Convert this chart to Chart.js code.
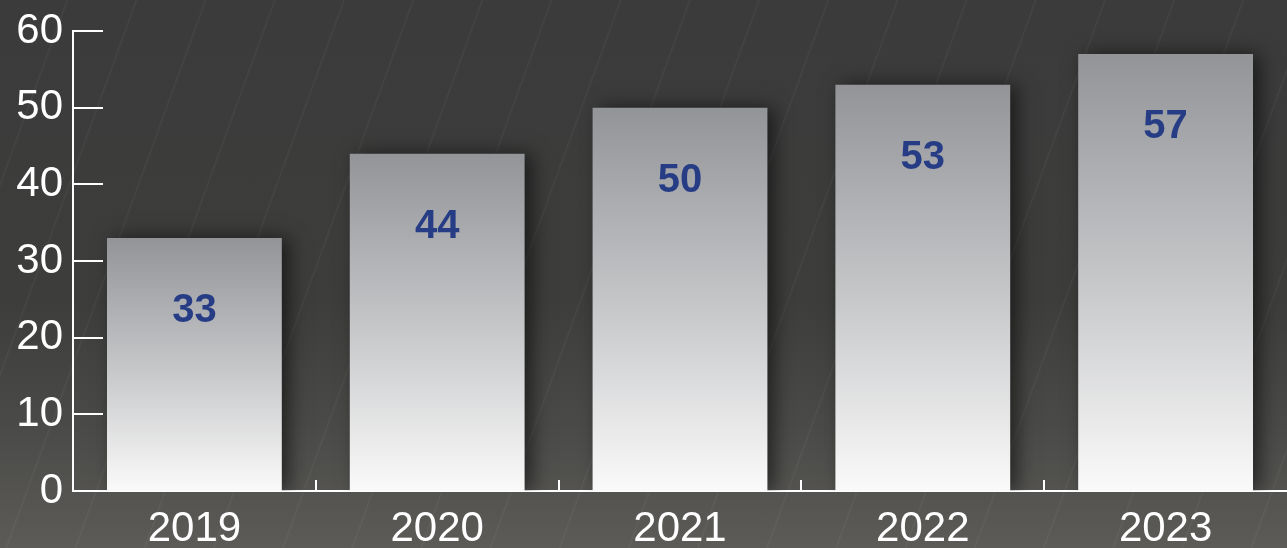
<!DOCTYPE html>
<html>
<head>
<meta charset="utf-8">
<script src="https://cdn.jsdelivr.net/npm/chart.js@4.4.1/dist/chart.umd.min.js"></script>
<style>
  html, body { margin: 0; padding: 0; width: 1287px; height: 548px; overflow: hidden; }
  body {
    background:
      repeating-linear-gradient(110deg, rgba(255,255,255,0) 0px, rgba(255,255,255,0) 62px, rgba(255,255,255,0.045) 63px, rgba(255,255,255,0) 65px),
      linear-gradient(180deg, #3b3b3b 0%, #3d3d3c 55%, #4a4a48 78%, #5c5b58 100%);
  }
  #wrap { position: absolute; left: 0; top: 0; width: 1287px; height: 548px; }
</style>
</head>
<body>
<div id="wrap"><canvas id="c" width="1287" height="548"></canvas></div>
<script>
const categories = ["2019", "2020", "2021", "2022", "2023"];
const values = [33, 44, 50, 53, 57];
const yTicks = [0, 10, 20, 30, 40, 50, 60];

const FONT = "'Liberation Sans', Arial, sans-serif";

// gradient per bar, from its own top (gray) to the baseline (white)
function barGradient(ctx) {
  const chart = ctx.chart;
  const y = chart.scales && chart.scales.y;
  if (!y || ctx.raw === undefined) return '#c4c5c7';
  const top = y.getPixelForValue(ctx.raw);
  const bottom = y.getPixelForValue(0);
  if (!isFinite(top) || !isFinite(bottom) || top === bottom) return '#c4c5c7';
  const g = chart.ctx.createLinearGradient(0, top, 0, bottom);
  g.addColorStop(0, '#939498');
  g.addColorStop(0.5, '#c4c5c7');
  g.addColorStop(1, '#fafafa');
  return g;
}

const shadowPlugin = {
  id: 'barShadow',
  beforeDatasetDraw(chart) {
    const c = chart.ctx;
    c.save();
    c.shadowColor = 'rgba(0,0,0,0.55)';
    c.shadowBlur = 18;
    c.shadowOffsetX = 7;
    c.shadowOffsetY = 0;
  },
  afterDatasetDraw(chart) {
    chart.ctx.restore();
  }
};

const innerTicksPlugin = {
  id: 'innerTicks',
  afterDatasetsDraw(chart) {
    const c = chart.ctx;
    const { left, bottom } = chart.chartArea;
    const ys = chart.scales.y, xs = chart.scales.x;
    c.save();
    c.strokeStyle = '#ffffff';
    c.lineWidth = 2;
    c.beginPath();
    yTicks.forEach(v => {
      const py = Math.round(ys.getPixelForValue(v));
      if (v !== 0) { c.moveTo(left, py); c.lineTo(left + 30, py); }
    });
    for (let i = 0; i < categories.length - 1; i++) {
      const px = Math.round((xs.getPixelForValue(i) + xs.getPixelForValue(i + 1)) / 2);
      c.moveTo(px, bottom); c.lineTo(px, bottom - 11);
    }
    c.stroke();
    c.restore();
  }
};

const valueLabelPlugin = {
  id: 'valueLabels',
  afterDatasetsDraw(chart) {
    const c = chart.ctx;
    const meta = chart.getDatasetMeta(0);
    c.save();
    c.fillStyle = '#263d86';
    c.font = "bold 40px " + FONT;
    c.textAlign = 'center';
    c.textBaseline = 'middle';
    meta.data.forEach((bar, i) => {
      c.fillText(String(values[i]), bar.x, bar.y + 73);
    });
    c.restore();
  }
};

new Chart(document.getElementById('c'), {
  type: 'bar',
  data: {
    labels: categories,
    datasets: [{
      data: values,
      backgroundColor: barGradient,
      borderWidth: 0,
      barPercentage: 0.72,
      categoryPercentage: 1.0
    }]
  },
  options: {
    responsive: false,
    animation: false,
    devicePixelRatio: 1,
    layout: { padding: { top: 31, right: 0, left: 0, bottom: 0 } },
    plugins: { legend: { display: false }, tooltip: { enabled: false }, title: { display: false } },
    scales: {
      x: {
        grid: { display: false, drawTicks: false },
        border: { display: true, color: '#ffffff', width: 2 },
        ticks: { color: '#ffffff', font: { family: FONT, size: 42 }, padding: 13, maxRotation: 0 },
        afterFit(scale) { scale.height = 57; }
      },
      y: {
        min: 0, max: 60,
        afterBuildTicks(scale) { scale.ticks = yTicks.map(v => ({ value: v })); },
        grid: { display: false, drawTicks: false },
        border: { display: true, color: '#ffffff', width: 2 },
        ticks: { color: '#ffffff', font: { family: FONT, size: 42, lineHeight: 1 }, padding: 10 },
        afterFit(scale) { scale.width = 73; }
      }
    }
  },
  plugins: [shadowPlugin, innerTicksPlugin, valueLabelPlugin]
});
</script>
</body>
</html>
